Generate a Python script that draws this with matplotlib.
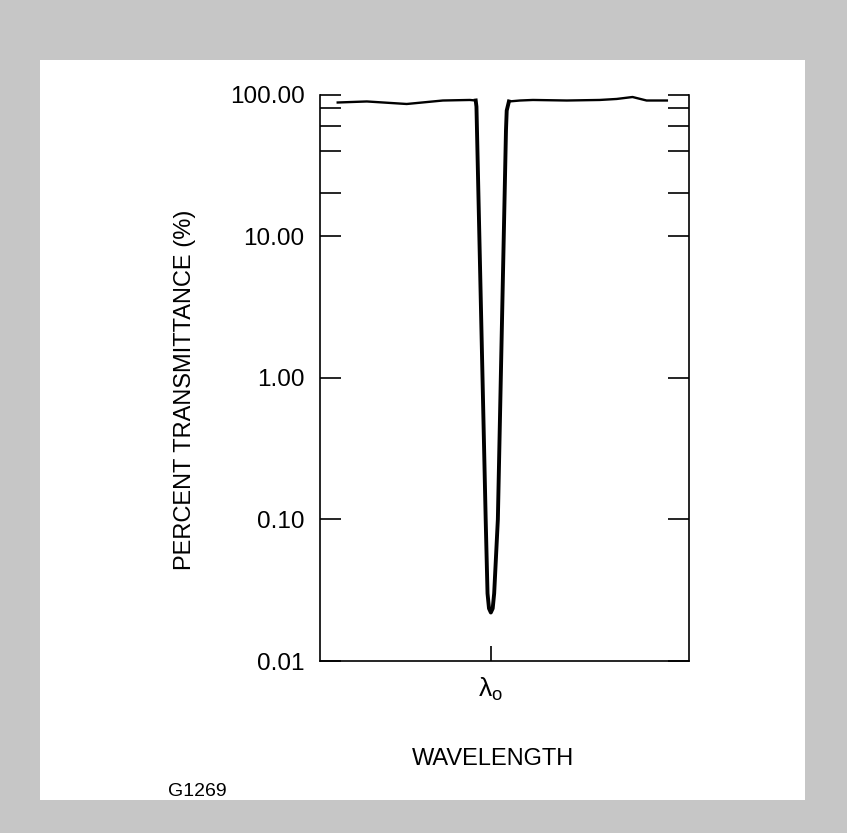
import matplotlib.pyplot as plt
from matplotlib.patches import Rectangle
from matplotlib.ticker import FixedLocator, NullFormatter, FormatStrFormatter

plt.rcParams['font.family'] = ['Liberation Sans', 'DejaVu Sans']
plt.rcParams['mathtext.fontset'] = 'custom'
plt.rcParams['mathtext.rm'] = 'Liberation Sans'
plt.rcParams['mathtext.it'] = 'Liberation Sans'
plt.rcParams['mathtext.default'] = 'regular'

# wavelength relative to lambda_o (arbitrary units), transmittance in %
wl_left = [-41.5, -33.6, -22.8, -13.0, -5.7, -4.1]
t_left = [87.8, 89.3, 85.7, 90.7, 91.5, 90.7]

wl_notch = [-4.1, -3.9, -1.4, -0.9, -0.5, 0.0, 0.5, 0.9, 1.9, 4.1, 4.3, 4.9]
t_notch = [90.7, 82.0, 0.1, 0.03, 0.0235, 0.022, 0.0235, 0.03, 0.1, 55.8, 77.0, 89.3]

wl_right = [4.9, 7.9, 11.4, 20.6, 29.5, 34.1, 38.4, 42.2, 47.7]
t_right = [89.3, 90.7, 91.5, 90.7, 91.5, 93.0, 96.0, 90.7, 90.7]

major_ticks = [0.01, 0.1, 1, 10, 100]
minor_ticks = [20, 40, 60, 80]

fig = plt.figure(figsize=(8.47, 8.33), dpi=100, facecolor='#c6c6c6')
fig.patches.append(Rectangle((40 / 847, 1 - 800 / 833), 765 / 847, 740 / 833,
                             transform=fig.transFigure, facecolor='white',
                             edgecolor='none', zorder=-10))

ax = fig.add_axes([320 / 847, 1 - 661 / 833, 369 / 847, 566.5 / 833])
ax.set_facecolor('white')

ax.plot(wl_left, t_left, color='black', lw=1.7)
ax.plot(wl_right, t_right, color='black', lw=1.7)
ax.plot(wl_notch, t_notch, color='black', lw=2.8, solid_joinstyle='round')

ax.set_yscale('log')
ax.set_ylim(0.01, 100)
ax.set_xlim(-46.3, 53.7)

ax.yaxis.set_major_locator(FixedLocator(major_ticks))
ax.yaxis.set_minor_locator(FixedLocator(minor_ticks))
ax.yaxis.set_major_formatter(FormatStrFormatter('%.2f'))
ax.yaxis.set_minor_formatter(NullFormatter())
ax.tick_params(axis='y', which='both', direction='in', left=True, right=True,
               length=15, width=1.2, labelsize=17.5, pad=11)

ax.set_xticks([0])
ax.set_xticklabels([r'$\lambda_{o}$'])
ax.tick_params(axis='x', direction='in', length=11, width=1.2, labelsize=19, pad=11)

for side in ['left', 'right', 'bottom']:
    ax.spines[side].set_linewidth(1.2)
ax.spines['top'].set_visible(False)

ax.set_xlabel('WAVELENGTH', fontsize=17)
ax.xaxis.set_label_coords(0.469, -0.173)
ax.xaxis.label.set_va('center')
ax.set_ylabel('PERCENT TRANSMITTANCE (%)', fontsize=17)
ax.yaxis.set_label_coords(-0.365, 0.478)
ax.yaxis.label.set_va('center')

fig.text(168 / 847, 1 - 791 / 833, 'G1269', fontsize=14, va='center', ha='left')

fig.savefig('out.png', dpi=100, facecolor=fig.get_facecolor())
